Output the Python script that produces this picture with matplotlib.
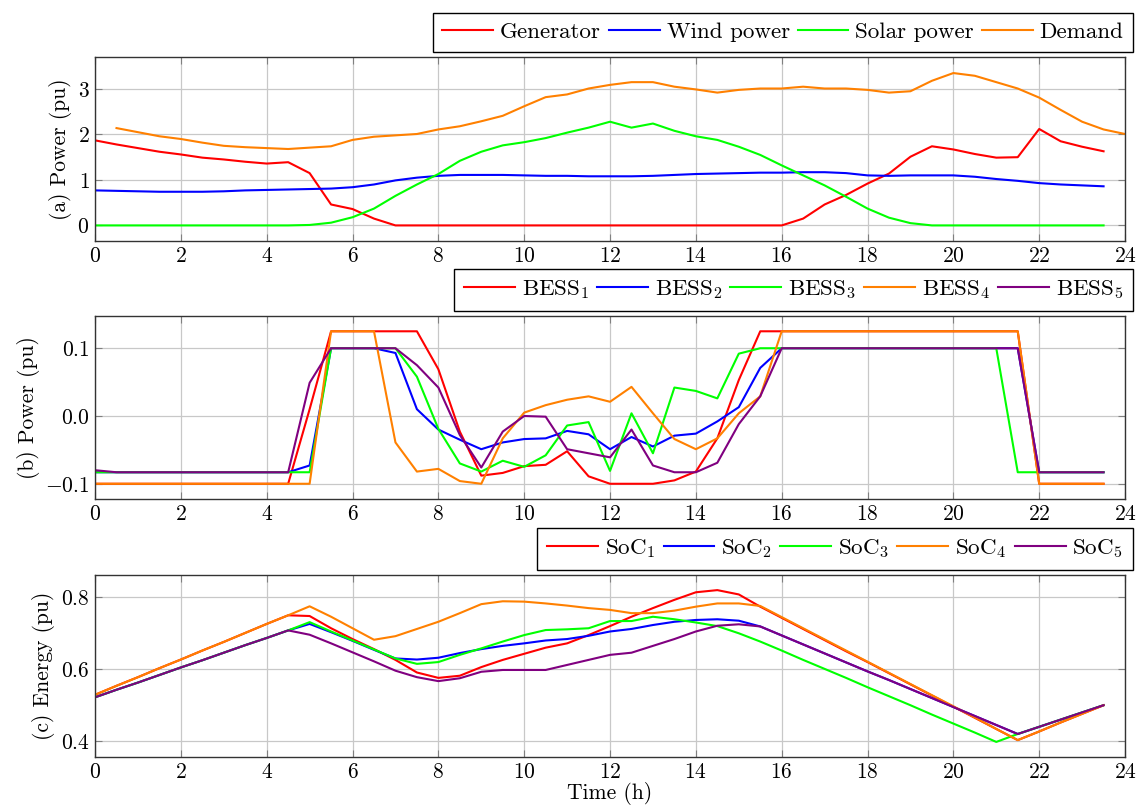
import numpy as np
import matplotlib
matplotlib.use('Agg')
from matplotlib import pyplot as plt

plt.rcParams['font.family'] = ['cmr10', 'DejaVu Serif']
plt.rcParams['mathtext.fontset'] = 'cm'
plt.rcParams['axes.formatter.use_mathtext'] = True
plt.rcParams['font.size'] = 15.5

# time axis (h)
hours = np.arange(0, 24, 0.5)
hours_demand = np.arange(0.5, 24.5, 0.5)

# (a) power
generator = [1.87, 1.78, 1.70, 1.62, 1.56, 1.49, 1.45, 1.40, 1.36, 1.39, 1.15, 0.46, 0.36, 0.15,
             0, 0, 0, 0, 0, 0, 0, 0, 0, 0, 0, 0, 0, 0, 0, 0, 0, 0, 0,
             0.15, 0.46, 0.67, 0.92, 1.14, 1.51, 1.74, 1.67, 1.57, 1.49, 1.50, 2.12, 1.85, 1.73, 1.63]
wind = [0.77, 0.76, 0.75, 0.74, 0.74, 0.74, 0.75, 0.77, 0.78, 0.79, 0.80, 0.81, 0.84, 0.90, 0.99, 1.05,
        1.09, 1.11, 1.11, 1.11, 1.10, 1.09, 1.09, 1.08, 1.08, 1.08, 1.09, 1.11, 1.13, 1.14, 1.15, 1.16,
        1.16, 1.17, 1.17, 1.15, 1.10, 1.09, 1.10, 1.10, 1.10, 1.07, 1.02, 0.98, 0.93, 0.90, 0.88, 0.86]
solar = [0, 0, 0, 0, 0, 0, 0, 0, 0, 0,
         0.01, 0.06, 0.18, 0.37, 0.65, 0.90, 1.13, 1.42, 1.62, 1.76, 1.83, 1.92, 2.04, 2.15, 2.28,
         2.15, 2.24, 2.08, 1.96, 1.88, 1.73, 1.55, 1.32, 1.10, 0.88, 0.63, 0.37, 0.17, 0.05,
         0, 0, 0, 0, 0, 0, 0, 0, 0]
demand = [2.14, 2.05, 1.96, 1.90, 1.82, 1.75, 1.72, 1.70, 1.68, 1.71, 1.74, 1.88, 1.95, 1.98, 2.01, 2.11,
          2.18, 2.29, 2.41, 2.62, 2.82, 2.88, 3.01, 3.09, 3.15, 3.15, 3.05, 2.99, 2.92, 2.98, 3.01, 3.01,
          3.05, 3.01, 3.01, 2.98, 2.92, 2.95, 3.18, 3.35, 3.29, 3.15, 3.01, 2.81, 2.54, 2.28, 2.11, 2.01]

# (b) BESS power
bess1 = [-0.1] * 10 + [0.01] + [0.125] * 5 + \
        [0.069, -0.023, -0.088, -0.084, -0.074, -0.072, -0.052, -0.089, -0.1, -0.1, -0.1, -0.095,
         -0.082, -0.033, 0.053] + [0.125] * 13 + [-0.1] * 4
bess2 = [-0.083] * 10 + \
        [-0.073, 0.1, 0.1, 0.1, 0.093, 0.010, -0.020, -0.035, -0.049, -0.039, -0.034, -0.033, -0.022,
         -0.027, -0.049, -0.031, -0.045, -0.029, -0.026, -0.008, 0.013, 0.071] + [0.1] * 12 + [-0.083] * 4
bess3 = [-0.083] * 11 + [0.1] * 4 + \
        [0.058, -0.019, -0.070, -0.082, -0.066, -0.075, -0.058, -0.014, -0.009, -0.081, 0.004, -0.055,
         0.042, 0.037, 0.026, 0.092] + [0.1] * 12 + [-0.083] * 5
bess4 = [-0.1] * 11 + [0.125] * 3 + \
        [-0.039, -0.082, -0.078, -0.096, -0.1, -0.033, 0.005, 0.016, 0.024, 0.029, 0.021, 0.043, 0.004,
         -0.034, -0.049, -0.033, 0.004, 0.029] + [0.125] * 12 + [-0.1] * 4
bess5 = [-0.080] + [-0.083] * 9 + [0.049] + [0.1] * 4 + \
        [0.075, 0.042, -0.028, -0.076, -0.023, 0.0, -0.001, -0.049, -0.055, -0.061, -0.020, -0.073,
         -0.083, -0.083, -0.069, -0.012, 0.029] + [0.1] * 12 + [-0.083] * 4

# (c) state of charge
soc1 = [0.528, 0.553, 0.577, 0.602, 0.626, 0.651, 0.675, 0.700, 0.725, 0.749,
        0.747, 0.713, 0.683, 0.655, 0.625, 0.590, 0.575, 0.581, 0.605, 0.625, 0.642, 0.659, 0.671, 0.694,
        0.719, 0.745, 0.769, 0.792, 0.813, 0.819, 0.807, 0.773,
        0.742, 0.711, 0.680, 0.649, 0.619, 0.588, 0.557, 0.526, 0.495, 0.464, 0.433, 0.402,
        0.426, 0.451, 0.475, 0.499]
soc2 = [0.521, 0.542, 0.562, 0.583, 0.604, 0.624, 0.645, 0.666, 0.686, 0.707,
        0.725, 0.702, 0.678, 0.653, 0.629, 0.626, 0.631, 0.644, 0.655, 0.664, 0.671, 0.679, 0.683, 0.692,
        0.704, 0.711, 0.722, 0.731, 0.736, 0.738, 0.734, 0.718,
        0.693, 0.668, 0.643, 0.618, 0.593, 0.569, 0.544, 0.519, 0.494, 0.469, 0.444, 0.419,
        0.439, 0.459, 0.479, 0.499]
soc3 = [0.521, 0.542, 0.562, 0.583, 0.604, 0.624, 0.645, 0.666, 0.686, 0.707,
        0.730, 0.704, 0.679, 0.654, 0.629, 0.614, 0.619, 0.639, 0.657, 0.676, 0.694, 0.708, 0.710, 0.713,
        0.733, 0.733, 0.745, 0.738, 0.729, 0.719, 0.699, 0.676,
        0.651, 0.625, 0.600, 0.575, 0.549, 0.524, 0.499, 0.473, 0.448, 0.423, 0.397,
        0.419, 0.439, 0.459, 0.479, 0.499]
soc4 = [0.528, 0.553, 0.577, 0.602, 0.626, 0.651, 0.675, 0.700, 0.725, 0.749,
        0.774, 0.745, 0.713, 0.681, 0.691, 0.711, 0.731, 0.755, 0.780, 0.788, 0.787, 0.782, 0.776, 0.769,
        0.764, 0.755, 0.755, 0.762, 0.773, 0.782, 0.782, 0.775,
        0.744, 0.713, 0.682, 0.651, 0.620, 0.589, 0.558, 0.527, 0.496, 0.465, 0.433, 0.402,
        0.426, 0.451, 0.475, 0.499]
soc5 = [0.521, 0.542, 0.562, 0.583, 0.604, 0.624, 0.645, 0.666, 0.686, 0.707,
        0.695, 0.671, 0.646, 0.621, 0.595, 0.577, 0.566, 0.574, 0.592, 0.597, 0.597, 0.597, 0.611, 0.625,
        0.639, 0.645, 0.664, 0.683, 0.704, 0.720, 0.724, 0.718,
        0.693, 0.668, 0.643, 0.618, 0.593, 0.569, 0.544, 0.519, 0.494, 0.469, 0.444, 0.419,
        0.439, 0.459, 0.479, 0.499]

colors = ['#ff0000', '#0000ff', '#00ff00', '#ff8000', '#800080']
lw = 1.5

fig = plt.figure(figsize=(11.41, 8.05), dpi=100)
ax_a = fig.add_axes([0.0833, 0.701, 0.9027, 0.2278])
ax_b = fig.add_axes([0.0833, 0.3801, 0.9027, 0.2273])
ax_c = fig.add_axes([0.0833, 0.0596, 0.9027, 0.2261])


def style(ax, ylabel, yticks, ylim):
    ax.set_xlim(0, 24)
    ax.set_xticks(np.arange(0, 25, 2))
    ax.set_ylim(*ylim)
    ax.set_yticks(yticks)
    ax.grid(True, color='#c8c8c8', lw=0.9)
    ax.set_axisbelow(True)
    ax.tick_params(direction='in', top=True, right=True, length=5, color='#808080', pad=4)
    for s in ax.spines.values():
        s.set_color('#333333')
        s.set_linewidth(1.0)
    ax.set_ylabel(ylabel, labelpad=4)


def legend(ax, ncol):
    ax.legend(loc='lower right', bbox_to_anchor=(1.008, 1.028), ncol=ncol, borderaxespad=0,
              frameon=True, fancybox=False, framealpha=1, edgecolor='black', fontsize=16.6,
              handlelength=2.2, handletextpad=0.3, columnspacing=0.35, borderpad=0.42)


ax_a.plot(hours, generator, color=colors[0], lw=lw, label='Generator')
ax_a.plot(hours, wind, color=colors[1], lw=lw, label='Wind power')
ax_a.plot(hours, solar, color=colors[2], lw=lw, label='Solar power')
ax_a.plot(hours_demand, demand, color=colors[3], lw=lw, label='Demand')
style(ax_a, '(a) Power (pu)', [0, 1, 2, 3], (-0.336, 3.696))
legend(ax_a, 4)

for i, b in enumerate([bess1, bess2, bess3, bess4, bess5]):
    ax_b.plot(hours, b, color=colors[i], lw=lw, label='BESS$_%d$' % (i + 1))
style(ax_b, '(b) Power (pu)', [-0.1, 0, 0.1], (-0.1225, 0.1475))
legend(ax_b, 5)

for i, s in enumerate([soc1, soc2, soc3, soc4, soc5]):
    ax_c.plot(hours, s, color=colors[i], lw=lw, label='SoC$_%d$' % (i + 1))
style(ax_c, '(c) Energy (pu)', [0.4, 0.6, 0.8], (0.355, 0.861))
legend(ax_c, 5)
ax_c.set_xlabel('Time (h)', labelpad=0)

fig.savefig('out.png', dpi=100)
